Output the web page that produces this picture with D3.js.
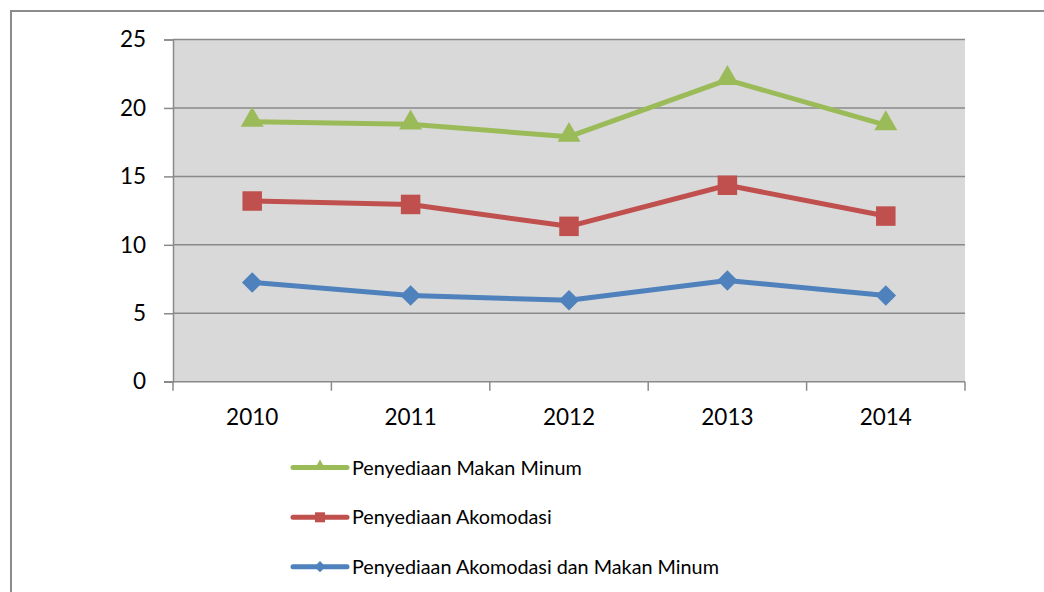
<!DOCTYPE html>
<html>
<head>
<meta charset="utf-8">
<script src="https://cdn.jsdelivr.net/npm/d3@7"></script>
<style>
  html, body { margin: 0; padding: 0; background: #fff; }
  svg { display: block; font-family: Lato, "Open Sans", sans-serif; }
</style>
</head>
<body>
<svg id="chart" width="1044" height="592"></svg>
<script>
const years = ["2010", "2011", "2012", "2013", "2014"];
const makanMinum = [19.0, 18.8, 17.9, 22.05, 18.75];
const akomodasi = [13.2, 12.95, 11.35, 14.35, 12.1];
const akomodasiMakan = [7.25, 6.3, 5.95, 7.4, 6.3];
const yTicks = [0, 5, 10, 15, 20, 25];

const series = [
  { name: "Penyediaan Makan Minum", values: makanMinum, color: "#9BBB59", marker: "triangle" },
  { name: "Penyediaan Akomodasi", values: akomodasi, color: "#C0504D", marker: "square" },
  { name: "Penyediaan Akomodasi dan Makan Minum", values: akomodasiMakan, color: "#4F81BD", marker: "diamond" }
];

const svg = d3.select("#chart");
const plot = { left: 173, right: 965, top: 39.5, bottom: 381.7 };

const x = d3.scaleBand().domain(years).range([plot.left, plot.right]);
const y = d3.scaleLinear().domain([0, 25]).range([plot.bottom, plot.top]);

// outer chart frame
svg.append("path")
  .attr("d", "M11,600 V11 H1050")
  .attr("fill", "none")
  .attr("stroke", "#8c8c8c")
  .attr("stroke-width", 2);

// plot area
svg.append("rect")
  .attr("x", plot.left).attr("y", plot.top)
  .attr("width", plot.right - plot.left).attr("height", plot.bottom - plot.top)
  .attr("fill", "#d9d9d9");

// gridlines
svg.append("g").selectAll("line").data(yTicks.filter(d => d > 0)).join("line")
  .attr("x1", plot.left).attr("x2", plot.right)
  .attr("y1", d => y(d)).attr("y2", d => y(d))
  .attr("stroke", "#8a8a8a").attr("stroke-width", 1.5);

// y axis
const yAxis = svg.append("g")
  .attr("transform", `translate(${plot.left},0)`)
  .call(d3.axisLeft(y).tickValues(yTicks).tickSize(9).tickPadding(18));
yAxis.select(".domain").attr("stroke", "#8a8a8a").attr("stroke-width", 1.5);
yAxis.selectAll(".tick line").attr("stroke", "#8a8a8a").attr("stroke-width", 1.5);
yAxis.selectAll(".tick text").attr("font-size", 22.5).attr("fill", "#000")
  .attr("font-family", "Lato, sans-serif");

// x axis: ticks at category boundaries
const bounds = years.map(d => x(d)).concat([plot.right]);
svg.append("line")
  .attr("x1", plot.left - 9).attr("x2", plot.right)
  .attr("y1", plot.bottom).attr("y2", plot.bottom)
  .attr("stroke", "#8a8a8a").attr("stroke-width", 1.5);
svg.append("g").selectAll("line").data(bounds).join("line")
  .attr("x1", d => d).attr("x2", d => d)
  .attr("y1", plot.bottom).attr("y2", plot.bottom + 9)
  .attr("stroke", "#8a8a8a").attr("stroke-width", 1.5);
svg.append("g").selectAll("text").data(years).join("text")
  .attr("x", d => x(d) + x.bandwidth() / 2)
  .attr("y", 425)
  .attr("text-anchor", "middle")
  .attr("font-size", 22.5)
  .attr("fill", "#000")
  .text(d => d);

function markerPath(type, size) {
  if (type === "triangle") return d3.symbol(d3.symbolTriangle, size * size * 0.433)();
  return d3.symbol(d3.symbolSquare, size * size)();
}

const line = d3.line()
  .x((d, i) => x(years[i]) + x.bandwidth() / 2)
  .y(d => y(d));

series.forEach(s => {
  const g = svg.append("g");
  g.append("path")
    .attr("d", line(s.values))
    .attr("fill", "none")
    .attr("stroke", s.color)
    .attr("stroke-width", 5)
    .attr("stroke-linejoin", "round");
  const side = s.marker === "triangle" ? 23 : s.marker === "square" ? 19.5 : 14.5;
  g.selectAll("path.m").data(s.values).join("path")
    .attr("class", "m")
    .attr("d", markerPath(s.marker, side))
    .attr("fill", s.color)
    .attr("transform", (d, i) => {
      const cx = x(years[i]) + x.bandwidth() / 2;
      const dy = s.marker === "triangle" ? -1.5 : 0;
      return `translate(${cx},${y(d) + dy})` + (s.marker === "diamond" ? " rotate(45)" : "");
    });
});

// legend
const legendY = [467.5, 517.3, 566.7];
const legend = svg.append("g");
series.forEach((s, i) => {
  const g = legend.append("g").attr("transform", `translate(0,${legendY[i]})`);
  g.append("line")
    .attr("x1", 293).attr("x2", 347).attr("y1", 0).attr("y2", 0)
    .attr("stroke", s.color).attr("stroke-width", 5).attr("stroke-linecap", "round");
  const side = s.marker === "triangle" ? 12 : s.marker === "square" ? 10 : 8;
  g.append("path")
    .attr("d", markerPath(s.marker, side))
    .attr("fill", s.color)
    .attr("transform", `translate(320,${s.marker === "triangle" ? -1 : 0})` + (s.marker === "diamond" ? " rotate(45)" : ""));
  g.append("text")
    .attr("x", 352).attr("y", 7)
    .attr("font-size", 19.8)
    .attr("fill", "#000")
    .text(s.name);
});
</script>
</body>
</html>
